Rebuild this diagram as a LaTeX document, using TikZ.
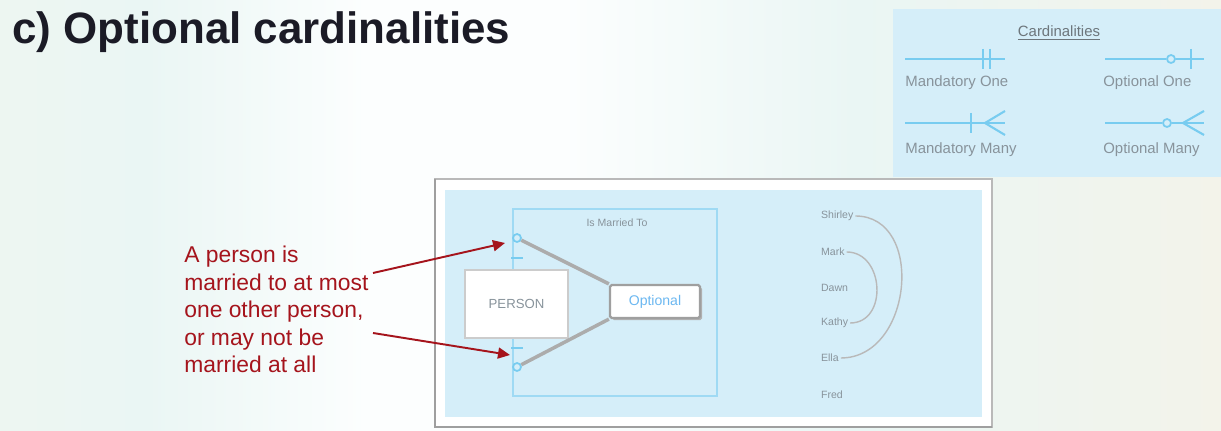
\documentclass[tikz,border=0pt]{standalone}
\usepackage{fontspec}
\setmainfont{Liberation Sans}
\usetikzlibrary{arrows.meta,positioning,calc,shadows}
\definecolor{ink}{HTML}{1B1B26}
\definecolor{wine}{HTML}{A5141C}
\definecolor{sky}{HTML}{D5EEF9}
\definecolor{rim}{HTML}{9FDAF4}
\definecolor{tick}{HTML}{78CCF0}
\definecolor{slate}{HTML}{88939B}
\definecolor{cream}{HTML}{EFF6F0}
\definecolor{mint}{HTML}{EAF6F4}
\definecolor{haze}{HTML}{FCFEFE}
\definecolor{peach}{HTML}{F3F3EA}
\pgfdeclarehorizontalshading{backdrop}{100bp}{color(0bp)=(cream); color(22bp)=(cream); color(31bp)=(mint); color(40bp)=(haze); color(48bp)=(haze); color(60bp)=(mint); color(75bp)=(peach); color(100bp)=(peach)}
\tikzset{entity/.style={draw=gray!40,fill=white,line width=1.3pt,minimum width=2.06cm,minimum height=1.36cm,font=\fontsize{7.5}{9}\selectfont,text=slate}, optbox/.style={draw=gray!75,fill=white,line width=1.3pt,rounded corners=1pt,minimum width=1.8cm,minimum height=0.66cm,font=\fontsize{8}{9}\selectfont,text=tick!90!blue,drop shadow={shadow xshift=1.2pt,shadow yshift=-1.2pt,fill=gray!60,opacity=1}}, assoc/.style={draw=rim,line width=1.4pt,minimum width=4.08cm,minimum height=3.74cm}, link/.style={draw=gray!65,line width=2pt}, point/.style={-{Triangle[length=2.4mm,width=2.2mm]},line width=1.1pt,draw=wine,fill=wine}, note/.style={font=\fontsize{13}{15.6}\selectfont,text=wine,align=left,inner sep=0pt}, tiny/.style={font=\fontsize{6}{7}\selectfont,text=slate,inner sep=1pt}, legend/.style={font=\fontsize{8.5}{10}\selectfont,text=slate,inner sep=0pt}, ring/.style={circle,draw=tick,line width=1pt,inner sep=0pt,minimum size=0.16cm}, bar/.style={draw=tick,line width=1.2pt}, pair/.style={draw=gray!55,line width=0.8pt}}

\begin{document}
\begin{tikzpicture}[x=0.02cm,y=-0.02cm]
\useasboundingbox (0,0) rectangle (1221,431);
\shade[shading=backdrop] (0,0) rectangle (1221,431);
\node[anchor=base west,inner sep=0pt,font=\fontsize{25}{28}\selectfont\bfseries,text=ink] (title) at (12,44) {c) Optional cardinalities};

\fill[sky] (893,9) rectangle (1221,177);
\node[legend,text=slate!80!black] (cardtitle) at (1059,33) {\underline{Cardinalities}};
\draw[bar] (905,59) -- (1005,59);
\draw[bar] (983,49) -- (983,69);
\draw[bar] (990,49) -- (990,69);
\node[legend,anchor=base west] (mone) at (905,87) {Mandatory One};
\draw[bar] (1105,59) -- (1166,59);
\draw[bar] (1176,59) -- (1204,59);
\node[ring] (oneRing) at (1171,59) {};
\draw[bar] (1191,49) -- (1191,69);
\node[legend,anchor=base west] (oone) at (1103,87) {Optional One};
\draw[bar] (905,123) -- (1005,123);
\draw[bar] (971,113) -- (971,133);
\draw[bar] (985,123) -- (1005,111);
\draw[bar] (985,123) -- (1005,135);
\node[legend,anchor=base west] (mmany) at (905,154) {Mandatory Many};
\draw[bar] (1105,123) -- (1162,123);
\draw[bar] (1172,123) -- (1204,123);
\node[ring] (manyRing) at (1167,123) {};
\draw[bar] (1183,123) -- (1204,111);
\draw[bar] (1183,123) -- (1204,135);
\node[legend,anchor=base west] (omany) at (1103,154) {Optional Many};

\draw[gray!55,fill=white,line width=1.6pt] (435,179) rectangle (992,427);
\draw[gray!75,line width=1.6pt] (435,179) -- (435,427) -- (992,427);
\fill[sky] (445,190) rectangle (982,417);
\node[assoc] (rel) at (615,302.5) {};
\node[tiny] (reltitle) at (617,223) {Is Married To};
\node[entity] (person) at (516.5,304) {PERSON};
\node[optbox] (opt) at (655,301.5) {Optional};
\node[ring] (upRing) at (517,238) {};
\draw[bar] (511,258) -- (523,258);
\draw[bar] (511,348) -- (523,348);
\node[ring] (lowRing) at (517,367) {};
\draw[link] (upRing) -- (opt.north west);
\draw[link] (lowRing) -- (opt.south west);

\node[tiny,anchor=west] (shirley) at (819,216) {Shirley};
\node[tiny,anchor=west] (mark) at (819,252) {Mark};
\node[tiny,anchor=west] (dawn) at (819,288) {Dawn};
\node[tiny,anchor=west] (kathy) at (819,323) {Kathy};
\node[tiny,anchor=west] (ella) at (819,358) {Ella};
\node[tiny,anchor=west] (fred) at (819,395) {Fred};
\draw[pair] (shirley.east) .. controls +(70,0) and +(72,0) .. (ella.east);
\draw[pair] (mark.east) .. controls +(38,0) and +(38,0) .. (kathy.east);

\node[note,anchor=north west] (claim) at (184,246) {A person is\\married to at most\\one other person,\\or may not be\\married at all};
\coordinate (fromTop) at (373,273);
\coordinate (fromLow) at (373,333);
\coordinate (hitTop) at (505,243);
\coordinate (hitLow) at (510,355);
\draw[point] (fromTop) -- (hitTop);
\draw[point] (fromLow) -- (hitLow);
\end{tikzpicture}
\end{document}
